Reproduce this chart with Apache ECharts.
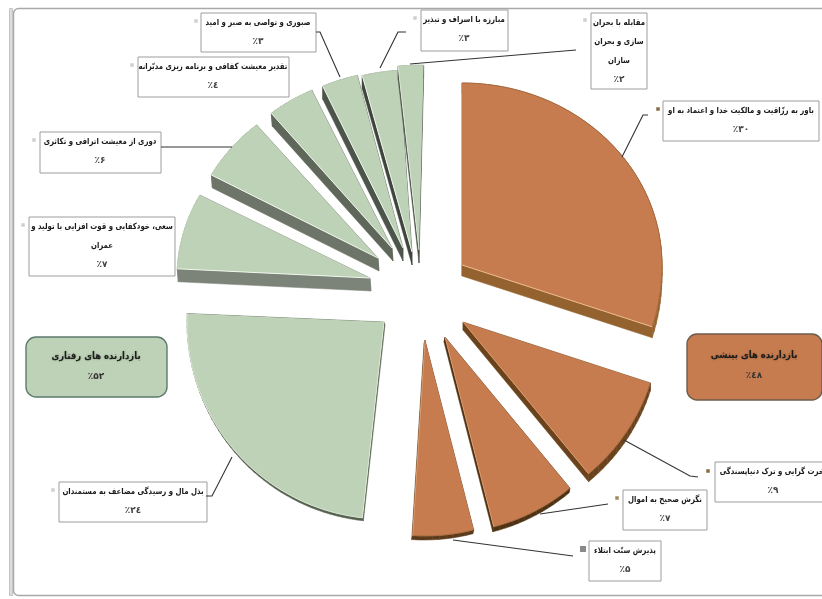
<!DOCTYPE html>
<html dir="rtl"><head><meta charset="utf-8">
<style>html,body{margin:0;padding:0;background:#fff}#c{position:absolute;left:0;top:0;width:822px;height:599px;direction:rtl;filter:blur(0.4px)}</style>
<script src="https://cdn.jsdelivr.net/npm/echarts@6/dist/echarts.min.js"></script>
</head><body><div id="c"></div>
<script>
// ---- data ----
const categories = [
 'باور به رزّاقیت و مالکیت خدا و اعتماد به او','آخرت گرایی و ترک دنیاپسندگی','نگرش صحیح به اموال','پذیرش سنّت ابتلاء',
 'بذل مال و رسیدگی مضاعف به مستمندان','سعی، خودکفایی و قوت افزایی با تولید و عمران','دوری از معیشت اترافی و تکاثری',
 'تقدیر معیشت کفافی و برنامه ریزی مدبّرانه','صبوری و تواصی به صبر و امید','مبارزه با اسراف و تبذیر','مقابله با بحران سازی و بحران سازان'];
const values = [30,9,7,5,24,7,6,4,3,3,2];
const percentLabels = ['٪۳۰','٪۹','٪۷','٪۵','٢٤٪','٪۷','٪۶','٤٪','٪۳','٪۳','٪۲'];
const groupNames = ['بازدارنده های بینشی','بازدارنده های رفتاری'];
const groupValues = [48,52];
const groupLabels = ['٤٨٪','٪۵۲'];
// ---- layout & style ----
const total = values.reduce((a,b)=>a+b,0);
const centre = [425,300], squashUp = 0.91;
const explode = [[37,-35],[38,22],[20,37],[0,40],[-41,22],[-55,-22],[-47,-42],[-33,-52],[-22,-52],[-13,-48],[-6,-50]];
const radii = [200,197,196,196,197,193,190,191,195,200,203];
const rotate = [0,0,0,0,2.7,3,3.5,4,4.5,3.6,1.3];
const depth = [[0,11],[0,8],[-1,5],[-1,4],[1,3],[1,13],[1,13],[1,13],[0,13],[0,13],[0,13]];
const ORANGE='#c67c4e', GREEN='#bdd2b6';
const faces = [0,1,2,3].map(()=>ORANGE).concat([4,5,6,7,8,9,10].map(()=>GREEN));
const sides = ['#93622f','#6a431c','#4f3113','#5a3a1a','#56614f','#7c8378','#6d7569','#5f675b','#4d544a','#3f453c','#4a5047'];
const arcs = ['#a96a3f','#a96a3f','#a96a3f','#a96a3f','#dbe6d6',GREEN,GREEN,GREEN,GREEN,GREEN,GREEN];
const edges = ['#efba8e','#d99a6c','#d99a6c','#d99a6c','#dfe9da','#f1f7ee','#f1f7ee','#f1f7ee','#f1f7ee','#f1f7ee','#dfe9da'];
const boxes = [[663,101,819,141],[715,462,840,502],[623,490,707,530],[589,541,661,581],[59,482,207,522],[29,217,175,276],[40,132,161,173],[138,57,289,97],[201,13,316,52],[421,10,508,51],[591,13,647,89]];
const textCentre = [741,773,665,625,133,102,100,213,258,464,619];
const lines = [[categories[0]],['آخرت گرایی و ترک دنیاپسندگی'],[categories[2]],[categories[3]],[categories[4]],['سعی، خودکفایی و قوت افزایی با تولید و','عمران'],[categories[6]],[categories[7]],[categories[8]],[categories[9]],['مقابله با بحران','سازی و بحران','سازان']];
const markers = [[658,109,'#8b6a45'],[708,471,'#8b6a45'],[617,498,'#a08a60'],[583,549,'#8a8a8a'],[53,490,'#cfcfcf'],[23,225,'#cfcfcf'],[34,140,'#cfcfcf'],[132,65,'#cfcfcf'],[196,21,'#cfcfcf'],[415,18,'#cfcfcf'],[585,20,'#cfcfcf']];
const leaders = [[[648,115],[643,115],[622,157]],[[698,477],[690,476],[624,440]],[[608,504],[540,514]],[[573,556],[453,540]],[[206,496],[212,496],[232,457]],[],[[161,147],[232,147]],[],[[316,32],[320,32],[340,77]],[[406,32],[398,32],[380,68]],[[576,50],[410,64]]];
const groupBoxes = [[687,334,822,400,ORANGE,'#6d5b4c',754,355,376],[26,337,167,397,GREEN,'#5d7a6c',96,356,377]];
const FONT='"DejaVu Sans"';

function outline(i){
  const before = values.slice(0,i).reduce((a,b)=>a+b,0);
  const a0 = before/total*360+rotate[i], a1 = (before+values[i])/total*360+rotate[i];
  const cx = centre[0]+explode[i][0], cy = centre[1]+explode[i][1];
  const pts=[[cx,cy]], n=Math.ceil((a1-a0)/2);
  for(let k=0;k<=n;k++){
    const a=(a0+(a1-a0)*k/n)*Math.PI/180;
    let dy=-Math.cos(a)*radii[i]; if(dy<0) dy*=squashUp;
    pts.push([cx+Math.sin(a)*radii[i], cy+dy]);
  }
  return pts;
}
function renderSlice(params, api){
  const i=params.dataIndex, d=depth[i], pts=outline(i), kids=[];
  for(let k=0;k<pts.length;k++){
    const p=pts[k], q=pts[(k+1)%pts.length];
    const quad=[p,q,[q[0]+d[0],q[1]+d[1]],[p[0]+d[0],p[1]+d[1]]].map(c=>api.coord(c));
    kids.push({type:'polygon',shape:{points:quad},style:{fill:sides[i],stroke:sides[i],lineWidth:0.5}});
  }
  const px=pts.map(c=>api.coord(c));
  kids.push({type:'polygon',shape:{points:px},style:{fill:faces[i],stroke:null}});
  kids.push({type:'polyline',shape:{points:px.slice(1)},style:{fill:null,stroke:arcs[i],lineWidth:1}});
  const exposed = i<4 ? [px[0],px[px.length-1]] : [px[0],px[1]];
  kids.push({type:'polyline',shape:{points:exposed},style:{fill:null,stroke:edges[i],lineWidth:1}});
  return {type:'group',children:kids};
}
function renderLabel(params, api){
  const i=params.dataIndex, b=boxes[i].map((v,k)=>api.coord(k%2?[0,v]:[v,0])[k%2]);
  const kids=[{type:'rect',shape:{x:b[0],y:b[1],width:b[2]-b[0],height:b[3]-b[1]},style:{fill:'#fff',stroke:'#9d9d9d',lineWidth:1}}];
  const cx=textCentre[i];
  const txt=lines[i].concat(percentLabels[i]);
  txt.forEach((t,k)=>{
    const last=k===txt.length-1;
    kids.push({type:'text',x:cx,y:b[1]+10+19*k,scaleX:last?1:0.82,style:{text:t,x:0,y:0,align:'center',verticalAlign:'middle',
      font:(last?'bold 9px ':'bold 8.5px ')+FONT,fill:last?'#444':'#1a1a1a'}});
  });
  const m=markers[i], s=i===3?6:3.5;
  kids.push({type:'rect',shape:{x:m[0]-s/2,y:m[1]-s/2,width:s,height:s},style:{fill:m[2]}});
  if(leaders[i].length) kids.push({type:'polyline',shape:{points:leaders[i].map(c=>api.coord(c))},style:{fill:null,stroke:'#333',lineWidth:1.1}});
  return {type:'group',children:kids};
}
function renderGroup(params, api){
  const g=groupBoxes[params.dataIndex];
  return {type:'group',children:[
    {type:'rect',shape:{x:g[0],y:g[1],width:g[2]-g[0],height:g[3]-g[1],r:10},style:{fill:g[4],stroke:g[5],lineWidth:1.4}},
    {type:'text',x:g[6],y:g[7],scaleX:0.85,style:{text:groupNames[params.dataIndex],x:0,y:0,align:'center',verticalAlign:'middle',font:'bold 10px '+FONT,fill:'#1c1c1c',textShadowColor:'rgba(0,0,0,.35)',textShadowBlur:2}},
    {type:'text',style:{text:groupLabels[params.dataIndex],x:g[6],y:g[8],align:'center',verticalAlign:'middle',font:'bold 9px '+FONT,fill:'#333'}}
  ]};
}
const chart=echarts.init(document.getElementById('c'));
chart.setOption({
  animation:false,
  backgroundColor:'#fff',
  grid:{left:0,right:0,top:0,bottom:0},
  xAxis:{type:'value',min:0,max:822,show:false},
  yAxis:{type:'value',min:0,max:599,inverse:true,show:false},
  graphic:[
    {type:'rect',z:0,shape:{x:13.5,y:8.5,width:830,height:587,r:5},style:{fill:'#fff',stroke:'#a9a9a9',lineWidth:1.5}},
    {type:'rect',z:0,shape:{x:9.5,y:8.5,width:3,height:587},style:{fill:'#dcdcdc',stroke:'#c4c4c4',lineWidth:1}}
  ],
  series:[
    {type:'custom',name:'slices',coordinateSystem:'cartesian2d',clip:false,silent:true,renderItem:renderSlice,data:values.map((v,i)=>[v,i]),z:2},
    {type:'custom',name:'labels',coordinateSystem:'cartesian2d',clip:false,silent:true,renderItem:renderLabel,data:values.map((v,i)=>[v,i]),z:3},
    {type:'custom',name:'groups',coordinateSystem:'cartesian2d',clip:false,silent:true,renderItem:renderGroup,data:groupValues.map((v,i)=>[v,i]),z:3}
  ]
});
</script></body></html>
